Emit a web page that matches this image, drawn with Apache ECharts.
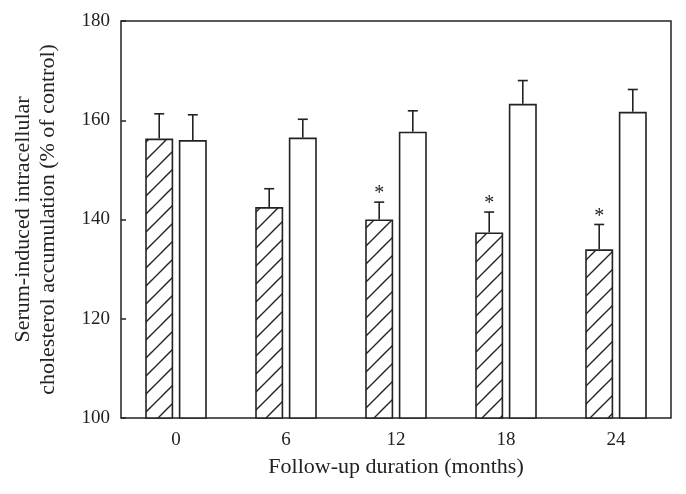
<!DOCTYPE html>
<html><head><meta charset="utf-8">
<script src="https://cdn.jsdelivr.net/npm/echarts@6/dist/echarts.min.js"></script>
<style>html,body{margin:0;padding:0;background:#fff}#c{width:686px;height:494px}</style>
</head><body><div id="c"></div>
<script>
var categories = ['0', '6', '12', '18', '24'];
var hatchedValues = [156.3, 142.5, 140.0, 137.4, 134.0];
var hatchedErrors = [5.0, 3.7, 3.5, 4.1, 5.0];
var whiteValues = [156.0, 156.5, 157.7, 163.3, 161.7];
var whiteErrors = [5.1, 3.7, 4.2, 4.7, 4.5];
var starMarks = ['', '', '*', '*', '*'];
var yTicks = [100, 120, 140, 160, 180];

var INK = '#222';
var FONT = '"Liberation Serif", "DejaVu Serif", serif';
var BAR_W = 28, GAP = 5.6;

function hatchPattern() {
  var s = 18, c = document.createElement('canvas');
  c.width = s; c.height = s;
  var g = c.getContext('2d');
  g.fillStyle = '#fff'; g.fillRect(0, 0, s, s);
  g.strokeStyle = INK; g.lineWidth = 1.4;
  g.beginPath();
  g.moveTo(-2, s + 2); g.lineTo(s + 2, -2);
  g.moveTo(-2, 2); g.lineTo(2, -2);
  g.moveTo(s - 2, s + 2); g.lineTo(s + 2, s - 2);
  g.stroke();
  return c;
}

function errData(vals, errs) {
  return vals.map(function (v, i) { return [i, v, v + errs[i]]; });
}

function errSeries(vals, errs, side, stars) {
  return {
    type: 'custom',
    z: 5,
    data: errData(vals, errs),
    renderItem: function (params, api) {
      var off = side * (BAR_W + GAP) / 2;
      var top = api.coord([api.value(0), api.value(1)]);
      var cap = api.coord([api.value(0), api.value(2)]);
      var x = top[0] + off;
      var children = [
        { type: 'line', shape: { x1: x, y1: top[1], x2: x, y2: cap[1] }, style: { stroke: INK, lineWidth: 1.6 } },
        { type: 'line', shape: { x1: x - 5, y1: cap[1], x2: x + 5, y2: cap[1] }, style: { stroke: INK, lineWidth: 1.6 } }
      ];
      var mark = stars ? stars[params.dataIndex] : '';
      if (mark) {
        children.push({ type: 'text', style: { text: mark, x: x, y: cap[1] + 2, textAlign: 'center', textVerticalAlign: 'bottom', font: '20px ' + FONT, fill: INK } });
      }
      return { type: 'group', children: children };
    }
  };
}

var chart = echarts.init(document.getElementById('c'), null, { renderer: 'canvas' });
chart.setOption({
  animation: false,
  backgroundColor: '#fff',
  grid: { left: 121, top: 21, right: 15, bottom: 76, show: true, borderColor: INK, borderWidth: 1.5, backgroundColor: 'transparent' },
  xAxis: {
    type: 'category', data: categories,
    axisLine: { show: false }, axisTick: { show: false },
    axisLabel: { color: INK, fontFamily: FONT, fontSize: 19, margin: 13 },
    name: 'Follow-up duration (months)', nameLocation: 'middle', nameGap: 38,
    nameTextStyle: { color: INK, fontFamily: FONT, fontSize: 22 }
  },
  yAxis: {
    type: 'value', min: yTicks[0], max: yTicks[yTicks.length - 1], interval: 20,
    axisLine: { show: false },
    axisTick: { show: true, inside: true, length: 5, lineStyle: { color: INK, width: 1.5 } },
    splitLine: { show: false },
    axisLabel: { color: INK, fontFamily: FONT, fontSize: 19, margin: 11 },
    name: 'Serum-induced intracellular\ncholesterol accumulation (% of control)',
    nameLocation: 'middle', nameGap: 60,
    nameTextStyle: { color: INK, fontFamily: FONT, fontSize: 22, lineHeight: 25 }
  },
  series: [
    { type: 'bar', data: hatchedValues, barWidth: BAR_W, barGap: (GAP / BAR_W * 100) + '%',
      itemStyle: { color: { image: hatchPattern(), repeat: 'repeat' }, borderColor: INK, borderWidth: 1.6 } },
    { type: 'bar', data: whiteValues, barWidth: BAR_W,
      itemStyle: { color: '#fff', borderColor: INK, borderWidth: 1.6 } },
    errSeries(hatchedValues, hatchedErrors, -1, starMarks),
    errSeries(whiteValues, whiteErrors, 1, null)
  ]
});
</script></body></html>
